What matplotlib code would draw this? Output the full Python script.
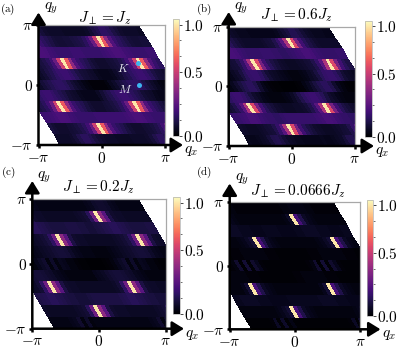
import numpy as np
import matplotlib
matplotlib.use("Agg")
import matplotlib.pyplot as plt

plt.rcParams['mathtext.fontset'] = 'cm'
plt.rcParams['font.family'] = ['DejaVu Serif']

W, H = 398, 354

# colour values (percent of the bar) along one period of the sheared q axis, rows top to bottom
A_ROWS = [
    [7,7,7,7,7,8,10,13,15,18,18,16,13,11,9,8,8,8,8,7],
    [12,13,14,17,22,32,58,100,68,42,26,20,17,15,13,11,10,10,11,11],
    [21,20,20,20,20,20,21,22,23,25,25,24,22,21,20,20,20,20,21,21],
    [15,12,10,9,9,9,10,11,12,14,17,22,32,58,100,68,42,26,20,17],
    [8,6,5,5,5,6,8,10,13,15,18,20,21,21,19,16,13,11,10,9],
    [2,2,3,6,8,11,13,15,17,18,18,16,13,10,8,6,4,3,2,2],
    [13,15,18,20,21,21,19,17,15,13,10,9,8,6,5,5,5,5,7,10],
    [12,14,17,22,32,58,100,68,42,26,20,17,15,12,10,9,9,9,10,11],
    [21,21,22,23,25,25,24,22,21,20,20,20,20,20,21,21,21,21,21,21],
    [12,10,9,9,9,10,11,12,14,17,22,32,58,100,68,42,26,20,17,15],
    [8,8,8,8,9,11,14,17,17,15,12,10,9,8,8,8,7,7,7,7],
]
B_ROWS = [
    [5,5,5,5,5,6,8,10,12,15,15,13,10,8,7,6,6,6,5,5],
    [9,10,11,14,19,28,50,100,62,36,22,16,13,11,9,8,8,8,8,8],
    [20,19,19,18,18,19,20,21,22,24,24,23,21,20,19,19,19,19,20,20],
    [11,9,8,7,7,7,8,9,10,11,14,19,28,50,100,62,36,22,16,13],
    [5,4,3,3,3,4,5,7,9,12,16,19,20,20,18,14,10,8,7,6],
    [0,0,1,2,4,6,9,12,15,17,17,14,9,5,3,2,1,1,0,0],
    [10,14,18,20,21,21,19,16,12,9,7,5,4,3,3,3,3,4,5,7],
    [9,11,14,19,28,50,100,62,36,22,16,13,11,9,8,7,7,7,8,8],
    [20,20,21,22,24,24,23,21,20,19,19,18,18,19,20,20,20,20,20,20],
    [9,8,7,7,7,8,9,10,11,14,19,28,50,100,62,36,22,16,13,11],
    [6,5,5,6,7,8,11,14,15,13,10,8,7,6,6,5,5,5,5,5],
]
C_ROWS = [
    [4,4,4,4,4,4,5,6,8,9,9,8,6,5,4,4,4,4,4,4],
    [7,7,8,9,10,16,34,100,42,28,13,9,8,8,7,7,7,7,7,7],
    [13,12,12,11,11,12,13,14,15,16,16,15,14,13,12,12,12,12,13,13],
    [8,7,7,7,7,7,7,7,8,9,10,12,18,34,100,42,28,13,9,8],
    [4,3,3,3,3,4,5,6,7,8,9,10,11,11,10,8,6,5,4,4],
    [0,0,1,2,3,5,7,9,3,8,3,6,5,3,3,2,1,1,0,0],
    [7,9,10,11,11,10,9,8,6,5,4,3,3,3,3,3,3,3,5,6],
    [7,8,10,18,34,100,42,28,13,9,8,8,7,7,7,7,7,7,7,7],
    [13,14,15,16,16,15,14,13,12,12,11,11,11,12,13,13,13,13,13,13],
    [8,7,7,7,7,7,7,7,8,9,10,16,34,100,42,28,13,9,8,8],
    [4,4,4,4,4,5,6,9,3,8,3,4,4,4,4,4,4,4,4,4],
]
D_ROWS = [
    [2,2,2,2,2,2,3,3,4,4,4,4,3,3,2,2,2,2,2,2],
    [3,3,3,3,3,4,7,100,24,14,7,5,4,3,3,3,3,3,3,3],
    [6,6,5,5,5,5,6,6,7,7,7,7,6,6,6,5,5,5,6,6],
    [3,3,3,3,3,3,3,3,3,3,4,5,7,10,100,24,14,7,5,4],
    [1,1,1,1,1,1,2,2,2,3,3,3,3,3,3,2,2,2,1,1],
    [1,1,1,1,2,3,9,0,10,1,9,5,2,1,1,1,1,1,1,1],
    [2,3,3,3,3,3,3,2,2,2,1,1,1,1,1,1,1,1,1,2],
    [3,3,3,3,5,10,100,24,14,7,5,4,3,3,3,3,3,3,3,3],
    [6,6,7,7,7,7,6,6,6,5,5,5,5,5,6,6,6,6,6,6],
    [3,3,3,3,3,3,3,3,3,4,5,7,10,100,24,14,7,5,4,3],
    [1,1,1,1,1,1,2,7,1,8,1,4,1,1,1,1,1,1,1,1],
]

PANEL_LABELS = [r'$\mathrm{(a)}$', r'$\mathrm{(b)}$', r'$\mathrm{(c)}$', r'$\mathrm{(d)}$']
TITLES = [r'$J_{\perp}=J_z$', r'$J_{\perp}=0.6J_z$', r'$J_{\perp}=0.2J_z$', r'$J_{\perp}=0.0666J_z$']
X_TICKS = [r'$-\pi$', r'$0$', r'$\pi$']
Y_TICKS = [r'$-\pi$', r'$0$', r'$\pi$']
CBAR_LABELS = [r'$0.0$', r'$0.5$', r'$1.0$']
K_POINT = (0.579 * np.pi, 0.36 * np.pi)
M_POINT = (0.59 * np.pi, 0.0)

VMAX = 105
U_LEFT, U_RIGHT = -3.879, 3.638
SHEAR = 1 / np.sqrt(3)

# pixel layouts: axes box, colourbar box, arrow tips, title, panel label
LAYOUT = [
    dict(ax=(38.5, 25, 165, 145), cb=(172.7, 19, 179, 136), up=12.5, right=183, title=(105, 18), lab=(8, 9)),
    dict(ax=(228.7, 26.7, 354.7, 146), cb=(365.3, 20.7, 372, 136.7), up=12, right=374, title=(296, 15), lab=(204, 9)),
    dict(ax=(32.3, 198.7, 165.7, 328.7), cb=(173.3, 197, 179.7, 313.7), up=181, right=184, title=(98, 187), lab=(8, 172)),
    dict(ax=(229.7, 202, 360.3, 329.3), cb=(367.3, 199.7, 373, 316), up=183.5, right=380.5, title=(298, 191), lab=(204, 172)),
]

fig = plt.figure(figsize=(W / 100, H / 100), dpi=100)


def box(b):
    x0, y0, x1, y1 = b
    return [x0 / W, 1 - y1 / H, (x1 - x0) / W, (y1 - y0) / H]


for rows, title, lab, lay in zip([A_ROWS, B_ROWS, C_ROWS, D_ROWS], TITLES, PANEL_LABELS, LAYOUT):
    ax = fig.add_axes(box(lay['ax']))
    vals = np.array(rows, float)[::-1]
    vals = np.hstack([vals, vals])
    n_r, n_c = vals.shape
    u = np.linspace(U_LEFT, U_RIGHT, n_c + 1)
    y = np.linspace(-np.pi, np.pi, n_r + 1)
    uu, yy = np.meshgrid(u, y)
    xx = uu - SHEAR * yy
    mesh = ax.pcolormesh(xx, yy, vals, cmap='magma', vmin=0, vmax=VMAX,
                         shading='flat', linewidth=0, antialiased=False)
    ax.set_xlim(-np.pi, np.pi)
    ax.set_ylim(-np.pi, np.pi)
    for s in ['top', 'right']:
        ax.spines[s].set_color('#a8a8a8')
        ax.spines[s].set_linewidth(0.9)
    for s in ['left', 'bottom']:
        ax.spines[s].set_visible(False)
    ax.set_xticks([-np.pi, 0, np.pi], X_TICKS, fontsize=11)
    ax.set_yticks([-np.pi, 0, np.pi], Y_TICKS, fontsize=11)
    ax.tick_params(length=2.5, width=1.8, pad=1.5)

    x0, y0, x1, y1 = lay['ax']
    tip_y = (y1 - lay['up']) / (y1 - y0)
    tip_x = (lay['right'] - x0) / (x1 - x0)
    arrow = dict(arrowstyle='-|>,head_length=0.55,head_width=0.34', color='black', lw=1.8,
                 shrinkA=0, shrinkB=0, mutation_scale=13)
    ax.annotate('', xy=(0, tip_y), xytext=(0, 0), xycoords='axes fraction', arrowprops=arrow,
                annotation_clip=False, zorder=5)
    ax.annotate('', xy=(tip_x, 0), xytext=(0, 0), xycoords='axes fraction', arrowprops=arrow,
                annotation_clip=False, zorder=5)
    fig.text((x0 + 5) / W, 1 - (lay['up'] - 4) / H, r'$q_y$', fontsize=11, ha='left', va='center')
    fig.text((lay['right'] + 1) / W, 1 - (y1 + 6) / H, r'$q_x$', fontsize=11, ha='left', va='center')
    fig.text(lay['title'][0] / W, 1 - lay['title'][1] / H, title, fontsize=11, ha='center', va='center')
    fig.text(lay['lab'][0] / W, 1 - lay['lab'][1] / H, lab, fontsize=8, ha='center', va='center')

    if lab == PANEL_LABELS[0]:
        ax.scatter(*K_POINT, s=13, color='#3db5f0', zorder=4, linewidths=0)
        ax.scatter(*M_POINT, s=13, color='#3db5f0', zorder=4, linewidths=0)
        ax.text(K_POINT[0] - 0.75, K_POINT[1] - 0.28, r'$K$', color='#e8e8f0', fontsize=8.5, ha='center', va='center')
        ax.text(M_POINT[0] - 0.68, M_POINT[1] - 0.25, r'$M$', color='#e8e8f0', fontsize=8.5, ha='center', va='center')

    cax = fig.add_axes(box(lay['cb']))
    cb = fig.colorbar(mesh, cax=cax)
    cb.outline.set_edgecolor('#b0b0b0')
    cb.outline.set_linewidth(0.5)
    # tick marks are evenly spaced on the reference bar; only three of them carry text
    spaced = [k * 100 / 7 for k in range(8)]
    cb.set_ticks([spaced[0], spaced[4], spaced[7]], labels=CBAR_LABELS)
    cb.ax.set_yticks(spaced, minor=True)
    cb.ax.tick_params(which='major', length=1.8, width=0.5, pad=1.2, labelsize=11)
    cb.ax.tick_params(which='minor', length=1.2, width=0.4)

fig.savefig('out.png', dpi=100)
